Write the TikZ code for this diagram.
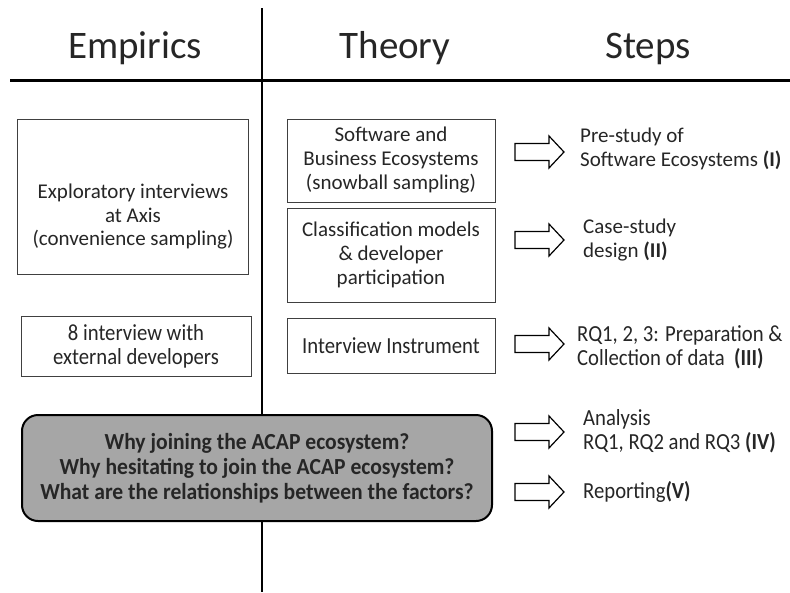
\documentclass[tikz,border=0pt]{standalone}
\usepackage{fontspec}
\setmainfont{Carlito}
\newfontfamily\condfont[FakeStretch=0.9]{Carlito}
\newfontfamily\condbold[FakeStretch=0.94]{Carlito Bold}
\tikzset{
  box/.style={draw=black!75, line width=0.8pt, fill=white, align=center, font=\fontsize{21}{24}\selectfont, text=black!85, inner sep=0pt},
  condbox/.style={box, font=\condfont\fontsize{23}{24}\selectfont},
  plaintext/.style={align=center, font=\fontsize{21}{23.5}\selectfont, text=black!85, inner sep=0pt},
  head/.style={font=\fontsize{39}{44}\selectfont, text=black!85, anchor=base},
  steptext/.style={align=left, anchor=north west, font=\fontsize{21}{24}\selectfont, text=black!85, inner sep=0pt},
  condstep/.style={steptext, font=\condfont\fontsize{23}{24}\selectfont},
  question/.style={draw=black, line width=2pt, rounded corners=16pt, fill=black!35, align=center, inner sep=0pt, font=\condbold\fontsize{23}{25}\selectfont, text=black!85},
  blockarrow/.style={draw=black, line width=1.2pt, fill=white, line join=miter}
}
\newcommand{\hollowarrow}[2]{%
  \draw[blockarrow] (#1,#2-8.5) -- ++(34,0) -- ++(0,-7.5) -- ++(15,16) -- ++(-15,16) -- ++(0,-7.5) -- ++(-34,0) -- cycle;}
\begin{document}
\begin{tikzpicture}[x=1pt,y=-1pt]
\useasboundingbox (0,0) rectangle (790,592);
% headings
\node[head] (emp) at (135,58) {Empirics};
\node[head] (the) at (395,58) {Theory};
\node[head] (ste) at (648,58) {Steps};
% lines
\coordinate (vt) at (262,8);
\coordinate (vb) at (262,592);
\coordinate (hl) at (10,80);
\coordinate (hr) at (790,80);
\draw[line width=1.6pt] (vt) -- (vb);
\draw[line width=3pt] (hl) -- (hr);
% empirics boxes
\node[box, minimum width=231pt, minimum height=155pt] (expl) at (133,197) {};
\node[plaintext] (explt) at (133,217) {Exploratory interviews\\at Axis\\(convenience sampling)};
\node[condbox, minimum width=230pt, minimum height=60pt] (eight) at (136,346) {8 interview with\\external developers};
% theory boxes
\node[box, minimum width=208pt, minimum height=83pt] (soft) at (391,160.5) {Software and\\Business Ecosystems\\(snowball sampling)};
\node[box, minimum width=208pt, minimum height=94pt] (clas) at (391,255) {Classification models\\\& developer\\participation};
\node[condbox, minimum width=208pt, minimum height=55pt] (inst) at (391,345.5) {Interview Instrument};
% question box
\node[question, minimum width=470pt, minimum height=106pt] (q) at (257,468) {Why joining the ACAP ecosystem?\\Why hesitating to join the ACAP ecosystem?\\What are the relationships between the factors?};
% arrows
\hollowarrow{515}{152}
\hollowarrow{515}{240}
\hollowarrow{515}{344}
\hollowarrow{515}{432}
\hollowarrow{515}{492}
% step texts
\node[steptext] (s1) at (580,128) {Pre-study of\\Software Ecosystems \textbf{(I)}};
\node[steptext] (s2) at (583,219) {Case-study\\design \textbf{(II)}};
\node[condstep] (s3) at (577,325) {RQ1, 2, 3: Preparation \&\\Collection of data~~\textbf{(III)}};
\node[condstep] (s4) at (583,409) {Analysis\\RQ1, RQ2 and RQ3 \textbf{(IV)}};
\node[condstep] (s5) at (583,481) {Reporting\textbf{(V)}};
\end{tikzpicture}
\end{document}
